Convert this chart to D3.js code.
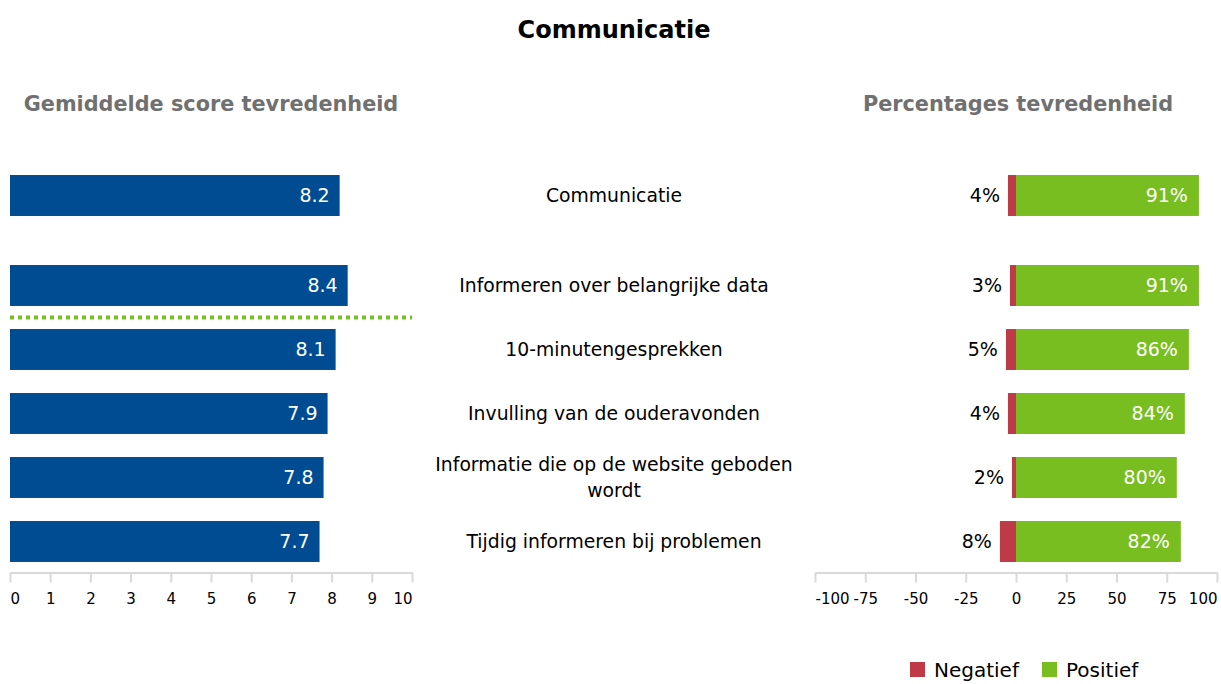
<!DOCTYPE html>
<html>
<head>
<meta charset="utf-8">
<script src="https://cdn.jsdelivr.net/npm/d3@7"></script>
<style>
  body { margin: 0; background: #fff; }
  svg { display: block; font-family: "DejaVu Sans", Verdana, sans-serif; }
</style>
</head>
<body>
<div class="canvas"></div>
<script>
// data
const categories = [
  'Communicatie',
  'Informeren over belangrijke data',
  '10-minutengesprekken',
  'Invulling van de ouderavonden',
  'Informatie die op de website geboden wordt',
  'Tijdig informeren bij problemen'
];
const scores = [8.2, 8.4, 8.1, 7.9, 7.8, 7.7];
const negatief = [4, 3, 5, 4, 2, 8];
const positief = [91, 91, 86, 84, 80, 82];
const scoreTicks = [0, 1, 2, 3, 4, 5, 6, 7, 8, 9, 10];
const pctTicks = [-100, -75, -50, -25, 0, 25, 50, 75, 100];
const legendItems = ['Negatief', 'Positief'];

const size = { width: 1221, height: 684 };
const colour = { blue: '#004c93', red: '#be3a46', green: '#78be20', axis: '#d9d9d9', sub: '#707070' };

// create svg container
const svg = d3.select('.canvas')
  .append('svg')
  .attr('width', size.width)
  .attr('height', size.height);

// scales
const xScore = d3.scaleLinear().domain([0, 10]).range([10, 412]);
const xPct = d3.scaleLinear().domain([-100, 100]).range([815, 1217]);
const y = d3.scaleBand()
  .domain(categories)
  .range([189.5, 573.5])
  .paddingInner(0.36)
  .paddingOuter(0.18);
// the first row (the overall score) sits a bit apart from the rest
const rowY = d => y(d) - (d === categories[0] ? 26 : 0);
const bw = y.bandwidth();
const axisY = 572.5;

// titles
svg.append('text')
  .attr('x', 614).attr('y', 38)
  .attr('text-anchor', 'middle')
  .attr('font-weight', 'bold')
  .attr('font-size', 24)
  .text('Communicatie');

svg.append('text')
  .attr('x', (xScore.range()[0] + xScore.range()[1]) / 2).attr('y', 111)
  .attr('text-anchor', 'middle')
  .attr('font-weight', 'bold')
  .attr('font-size', 20.8)
  .attr('fill', colour.sub)
  .text('Gemiddelde score tevredenheid');

svg.append('text')
  .attr('x', (xPct.range()[0] + xPct.range()[1]) / 2 + 2).attr('y', 111)
  .attr('text-anchor', 'middle')
  .attr('font-weight', 'bold')
  .attr('font-size', 20.8)
  .attr('fill', colour.sub)
  .text('Percentages tevredenheid');

// axes
const drawAxis = (scale, ticks) => {
  const g = svg.append('g').attr('transform', `translate(0,${axisY})`);
  g.call(d3.axisBottom(scale)
    .tickValues(ticks)
    .tickFormat(d => String(d))
    .tickSize(10).tickSizeOuter(0).tickPadding(11));
  g.select('.domain').attr('stroke', colour.axis).attr('stroke-width', 2);
  g.selectAll('.tick line').attr('stroke', colour.axis).attr('stroke-width', 2);
  g.selectAll('.tick text')
    .attr('font-size', 15)
    .attr('font-family', '"DejaVu Sans", Verdana, sans-serif')
    .attr('fill', '#000')
    .attr('text-anchor', (d, i) => i === 0 ? 'start' : i === ticks.length - 1 ? 'end' : 'middle');
};
drawAxis(xScore, scoreTicks);
drawAxis(xPct, pctTicks);

// left: average score bars
const left = svg.append('g');
left.selectAll('rect')
  .data(categories)
  .enter().append('rect')
    .attr('x', xScore(0))
    .attr('y', d => rowY(d))
    .attr('width', (d, i) => xScore(scores[i]) - xScore(0))
    .attr('height', bw)
    .attr('fill', colour.blue);

left.selectAll('text')
  .data(categories)
  .enter().append('text')
    .attr('x', (d, i) => xScore(scores[i]) - 10)
    .attr('y', d => rowY(d) + bw / 2)
    .attr('dy', '0.36em')
    .attr('text-anchor', 'end')
    .attr('font-size', 19)
    .attr('fill', '#fff')
    .text((d, i) => d3.format('.1f')(scores[i]));

// separator between overall score and sub-items
const sepY = (y(categories[1]) + bw + y(categories[2])) / 2;
svg.append('line')
  .attr('x1', xScore(0)).attr('x2', xScore(10))
  .attr('y1', sepY).attr('y2', sepY)
  .attr('stroke', colour.green)
  .attr('stroke-width', 4)
  .attr('stroke-dasharray', '4,4');

// category labels, wrapped if too long
const labels = svg.append('g');
categories.forEach(cat => {
  const t = labels.append('text')
    .attr('x', 614)
    .attr('text-anchor', 'middle')
    .attr('font-size', 18.8);
  const words = cat.split(' ');
  let lines = [], line = [];
  const probe = t.append('tspan');
  words.forEach(w => {
    line.push(w);
    probe.text(line.join(' '));
    if (probe.node().getComputedTextLength() > 380 && line.length > 1) {
      line.pop();
      lines.push(line.join(' '));
      line = [w];
    }
  });
  lines.push(line.join(' '));
  probe.remove();
  const lh = 26;
  const cy = rowY(cat) + bw / 2 - (lines.length - 1) * lh / 2;
  lines.forEach((l, i) => {
    t.append('tspan')
      .attr('x', 614)
      .attr('y', cy + i * lh)
      .attr('dy', '0.36em')
      .text(l);
  });
});

// right: percentages (negative / positive)
const right = svg.append('g');
right.selectAll('rect.neg')
  .data(categories)
  .enter().append('rect')
    .attr('class', 'neg')
    .attr('x', (d, i) => xPct(-negatief[i]))
    .attr('y', d => rowY(d))
    .attr('width', (d, i) => xPct(0) - xPct(-negatief[i]))
    .attr('height', bw)
    .attr('fill', colour.red);

right.selectAll('rect.pos')
  .data(categories)
  .enter().append('rect')
    .attr('class', 'pos')
    .attr('x', xPct(0))
    .attr('y', d => rowY(d))
    .attr('width', (d, i) => xPct(positief[i]) - xPct(0))
    .attr('height', bw)
    .attr('fill', colour.green);

right.selectAll('text.neg')
  .data(categories)
  .enter().append('text')
    .attr('class', 'neg')
    .attr('x', (d, i) => xPct(-negatief[i]) - 8)
    .attr('y', d => rowY(d) + bw / 2)
    .attr('dy', '0.36em')
    .attr('text-anchor', 'end')
    .attr('font-size', 19)
    .attr('fill', '#000')
    .text((d, i) => negatief[i] + '%');

right.selectAll('text.pos')
  .data(categories)
  .enter().append('text')
    .attr('class', 'pos')
    .attr('x', (d, i) => xPct(positief[i]) - 11)
    .attr('y', d => rowY(d) + bw / 2)
    .attr('dy', '0.36em')
    .attr('text-anchor', 'end')
    .attr('font-size', 19)
    .attr('fill', '#fff')
    .text((d, i) => positief[i] + '%');

// legend
const legendColour = d3.scaleOrdinal().domain(legendItems).range([colour.red, colour.green]);
const legend = svg.append('g').attr('transform', 'translate(910,662)');
const item = legend.selectAll('g')
  .data(legendItems)
  .enter().append('g')
    .attr('transform', (d, i) => `translate(${i * 132},0)`);
item.append('rect')
  .attr('width', 15).attr('height', 15)
  .attr('fill', d => legendColour(d));
item.append('text')
  .attr('x', 24).attr('y', 8)
  .attr('dy', '0.36em')
  .attr('font-size', 20)
  .text(d => d);
</script>
</body>
</html>
